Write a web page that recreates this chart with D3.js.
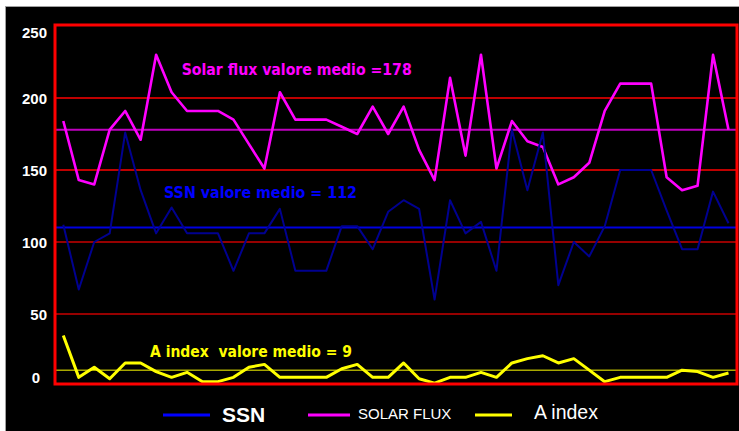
<!DOCTYPE html>
<html>
<head>
<meta charset="utf-8">
<script src="https://cdn.jsdelivr.net/npm/d3@7"></script>
<style>
  body { margin: 0; background: #fff; }
  svg { display: block; }
</style>
</head>
<body>
<div id="chart"></div>
<script>
// Daily values (44 days)
const solarFlux = [184, 143, 140, 178, 191, 171, 230, 204, 191, 191, 191, 185, 168, 151, 204,
  185, 185, 185, 180, 175, 194, 175, 194, 164, 143, 214, 160, 230, 151, 184, 170, 166, 140, 145,
  155, 191, 210, 210, 210, 145, 136, 139, 230, 178];
const ssn = [112, 67, 100, 106, 176, 136, 106, 124, 106, 106, 106, 80, 106, 106, 123,
  80, 80, 80, 111, 111, 95, 121, 129, 123, 60, 129, 106, 114, 80, 178, 136, 176, 70, 100,
  90, 111, 150, 150, 150, 122, 95, 95, 135, 113];
const aIndex = [35, 6, 13, 5, 16, 16, 10, 6, 9.5, 3, 3, 6, 13, 15, 6,
  6, 6, 6, 12, 15, 6, 6, 16, 5, 2, 6, 6, 9.5, 6, 16, 19, 21, 16, 19,
  11, 3, 6, 6, 6, 6, 11, 10, 6, 9];

// Mean lines as drawn, and their captions
const meanValues = [178, 110, 11];
const meanLabels = ["Solar flux valore medio =178", "SSN valore medio = 112", "A index  valore medio = 9"];

const yTicks = [0, 50, 100, 150, 200, 250];
const gridValues = [200, 150, 100, 50];
const legendNames = ["SSN", "SOLAR FLUX", "A index"];

// === Chart ===
const width = 739, height = 431;
const plot = { left: 55, right: 737, top: 25, bottom: 384 };

const svg = d3.select("#chart")
  .append("svg")
  .attr("width", width)
  .attr("height", height);

// white page, black chart area with grey edge
svg.append("rect").attr("width", width).attr("height", height).attr("fill", "#fff");
svg.append("rect")
  .attr("x", 5.5).attr("y", 6.5)
  .attr("width", width).attr("height", height)
  .attr("fill", "#000")
  .attr("stroke", "#a0a0a0");

const x = d3.scaleLinear().domain([0, solarFlux.length - 1]).range([63.3, 728.5]);
const y = d3.scaleLinear().domain([0, 250]).range([386, 26]);

// grid lines
svg.selectAll("line.grid")
  .data(gridValues)
  .enter()
  .append("line")
  .attr("class", "grid")
  .attr("x1", plot.left).attr("x2", plot.right)
  .attr("y1", d => y(d)).attr("y2", d => y(d))
  .attr("stroke", d => d >= 150 ? "#ff0000" : "#c80000")
  .attr("stroke-width", 1.5);

// y axis labels (the 0 sits a bit further left, like the original)
svg.selectAll("text.ylab")
  .data(yTicks)
  .enter()
  .append("text")
  .attr("class", "ylab")
  .attr("x", d => d === 0 ? 40 : 47)
  .attr("y", d => Math.min(Math.max(y(d) + 5.5, 37.5), 383))
  .attr("text-anchor", "end")
  .attr("font-family", "Liberation Sans, Arial, sans-serif")
  .attr("font-weight", "bold")
  .attr("font-size", 15)
  .attr("fill", "#fff")
  .text(d => d);

// mean lines
const meanColors = ["#c000c0", "#0000e0", "#ffff00"];
const meanWidths = [2, 2, 1];
svg.selectAll("line.mean")
  .data(meanValues)
  .enter()
  .append("line")
  .attr("class", "mean")
  .attr("x1", plot.left).attr("x2", plot.right)
  .attr("y1", d => y(d)).attr("y2", d => y(d))
  .attr("stroke", (d, i) => meanColors[i])
  .attr("stroke-width", (d, i) => meanWidths[i]);

// series
const line = d3.line()
  .x((d, i) => x(i))
  .y(d => y(d));

const series = [
  { values: solarFlux, color: "#ff00ff", w: 2.6 },
  { values: ssn, color: "#000090", w: 2 },
  { values: aIndex, color: "#ffff00", w: 3 }
];

series.forEach(s => {
  svg.append("path")
    .datum(s.values)
    .attr("fill", "none")
    .attr("stroke", s.color)
    .attr("stroke-width", s.w)
    .attr("stroke-linejoin", "round")
    .attr("d", line);
});

// captions of the means
const capPos = [
  { x: 181.7, y: 75, w: 230, color: "#ff00ff" },
  { x: 164, y: 198, w: 193, color: "#0000ff" },
  { x: 150, y: 356.5, w: 202, color: "#ffff00" }
];
svg.selectAll("text.cap")
  .data(meanLabels)
  .enter()
  .append("text")
  .attr("class", "cap")
  .attr("x", (d, i) => capPos[i].x)
  .attr("y", (d, i) => capPos[i].y)
  .attr("textLength", (d, i) => capPos[i].w)
  .attr("lengthAdjust", "spacingAndGlyphs")
  .attr("font-family", "DejaVu Sans, Verdana, sans-serif")
  .attr("font-weight", "bold")
  .attr("font-size", 16)
  .attr("fill", (d, i) => capPos[i].color)
  .style("white-space", "pre")
  .text(d => d);

// plot border
svg.append("rect")
  .attr("x", plot.left).attr("y", plot.top)
  .attr("width", plot.right - plot.left)
  .attr("height", plot.bottom - plot.top)
  .attr("fill", "none")
  .attr("stroke", "#ff0000")
  .attr("stroke-width", 3);

// legend
const legendItems = [
  { x1: 163, x2: 210, color: "#0000ff", tx: 222, ty: 422, size: 21, weight: "bold" },
  { x1: 308, x2: 350, color: "#ff00ff", tx: 358, ty: 418.5, size: 15, weight: "normal" },
  { x1: 475, x2: 512, color: "#ffff00", tx: 534, ty: 418.5, size: 19.5, weight: "normal" }
];
legendItems.forEach((l, i) => {
  svg.append("line")
    .attr("x1", l.x1).attr("x2", l.x2)
    .attr("y1", 415).attr("y2", 415)
    .attr("stroke", l.color)
    .attr("stroke-width", 3);
  svg.append("text")
    .attr("x", l.tx).attr("y", l.ty)
    .attr("font-family", "Liberation Sans, Arial, sans-serif")
    .attr("font-weight", l.weight)
    .attr("font-size", l.size)
    .attr("fill", "#fff")
    .text(legendNames[i]);
});
</script>
</body>
</html>
